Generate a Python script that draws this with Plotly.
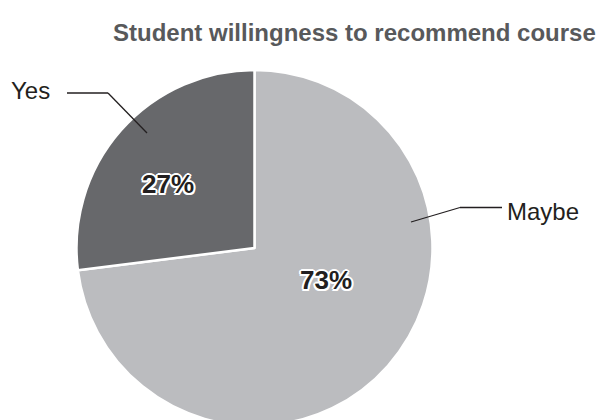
import plotly.graph_objects as go

# Survey responses
labels = ["Maybe", "Yes"]
values = [73, 27]
slice_colors = ["#bbbcbf", "#67686b"]
title_text = "Student willingness to recommend course"

W, H = 601, 430


def px(x):
    return x / W


def py(y):
    return (H - y) / H


total = sum(values)
pct = {lab: f"{round(v / total * 100)}%" for lab, v in zip(labels, values)}

# pie geometry in pixels (centre and radius)
cx, cy, r = 254.5, 248.0, 178.0

fig = go.Figure(
    go.Pie(
        labels=labels,
        values=values,
        sort=False,
        direction="clockwise",
        rotation=0,
        marker=dict(colors=slice_colors, line=dict(color="white", width=2.5)),
        textinfo="none",
        hoverinfo="label+percent",
        showlegend=False,
        domain=dict(x=[px(cx - r), px(cx + r)], y=[py(cy + r), py(cy - r)]),
    )
)

outline = ", ".join(
    f"{dx}px {dy}px 0 #ffffff"
    for dx, dy in [(2, 0), (-2, 0), (0, 2), (0, -2), (1.5, 1.5), (-1.5, -1.5), (1.5, -1.5), (-1.5, 1.5)]
)
pct_font = dict(family="Liberation Sans, Arial, sans-serif", size=26, color="#231f20",
                weight="bold", shadow=outline)
label_font = dict(family="Liberation Sans, Arial, sans-serif", size=24, color="#231f20")

annotations = [
    dict(text=f"<b>{title_text}</b>", x=px(598), y=py(32), xanchor="right", yanchor="middle",
         showarrow=False, font=dict(family="Liberation Sans, Arial, sans-serif", size=24, color="#58595b")),
    dict(text=pct["Yes"], x=px(168.5), y=py(184), xanchor="center", yanchor="middle",
         showarrow=False, font=pct_font),
    dict(text=pct["Maybe"], x=px(326), y=py(280), xanchor="center", yanchor="middle",
         showarrow=False, font=pct_font),
    dict(text="Yes", x=px(9), y=py(91), xanchor="left", yanchor="middle",
         showarrow=False, font=label_font),
    dict(text="Maybe", x=px(505), y=py(212), xanchor="left", yanchor="middle",
         showarrow=False, font=label_font),
]

# leader lines from the labels into their slices
leaders = [
    [(67, 93), (108, 93), (147, 133)],
    [(502, 207.5), (460, 207.5), (411, 222)],
]
shapes = []
for pts in leaders:
    for (x0, y0), (x1, y1) in zip(pts[:-1], pts[1:]):
        shapes.append(dict(type="line", xref="paper", yref="paper",
                           x0=px(x0), y0=py(y0), x1=px(x1), y1=py(y1),
                           line=dict(color="#231f20", width=1.3)))

fig.update_layout(
    width=W,
    height=H,
    margin=dict(l=0, r=0, t=0, b=0),
    paper_bgcolor="white",
    plot_bgcolor="white",
    annotations=annotations,
    shapes=shapes,
)

fig.write_html("out.html")
